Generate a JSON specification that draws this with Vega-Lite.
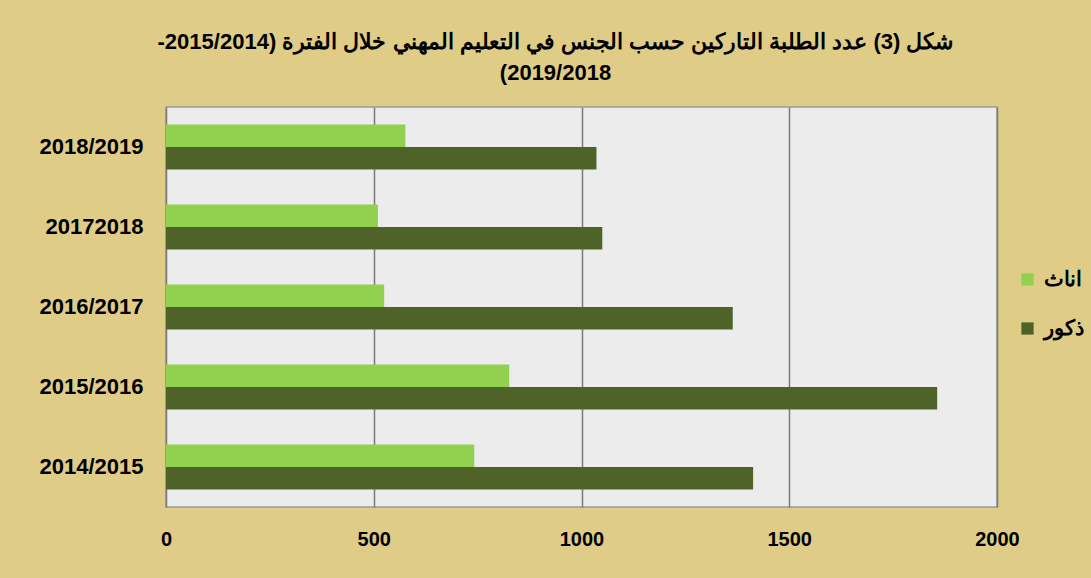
{
  "$schema": "https://vega.github.io/schema/vega-lite/v6.json",
  "width": 831,
  "height": 400,
  "autosize": {"type": "none"},
  "padding": {"left": 166, "top": 107, "right": 94, "bottom": 71},
  "background": "#dfcd87",
  "title": {
    "text": ["\u202bشكل (3) عدد الطلبة التاركين حسب الجنس في التعليم المهني خلال الفترة (2014\u200f/\u200f2015-\u202c", "\u202b2018\u200f/\u200f2019)\u202c"],
    "font": "Liberation Sans",
    "fontSize": 22,
    "fontWeight": "bold",
    "color": "#000000",
    "lineHeight": 31,
    "anchor": "middle",
    "frame": "group",
    "dx": -26,
    "offset": 22
  },
  "data": {
    "values": [
      {"year": "2018/2019", "gender": "اناث", "count": 576},
      {"year": "2018/2019", "gender": "ذكور", "count": 1036},
      {"year": "20172018", "gender": "اناث", "count": 510},
      {"year": "20172018", "gender": "ذكور", "count": 1050},
      {"year": "2016/2017", "gender": "اناث", "count": 525},
      {"year": "2016/2017", "gender": "ذكور", "count": 1364},
      {"year": "2015/2016", "gender": "اناث", "count": 826},
      {"year": "2015/2016", "gender": "ذكور", "count": 1856},
      {"year": "2014/2015", "gender": "اناث", "count": 742},
      {"year": "2014/2015", "gender": "ذكور", "count": 1413}
    ]
  },
  "mark": {"type": "bar"},
  "encoding": {
    "y": {
      "field": "year",
      "type": "nominal",
      "sort": ["2018/2019", "20172018", "2016/2017", "2015/2016", "2014/2015"],
      "scale": {"paddingInner": 0.44, "paddingOuter": 0.22},
      "axis": {
        "title": null,
        "domain": false,
        "ticks": false,
        "labelFont": "Liberation Sans",
        "labelFontSize": 22,
        "labelFontWeight": "bold",
        "labelColor": "#000000",
        "labelPadding": 23
      }
    },
    "yOffset": {
      "field": "gender",
      "type": "nominal",
      "scale": {"domain": ["اناث", "ذكور"], "paddingInner": 0, "paddingOuter": 0}
    },
    "x": {
      "field": "count",
      "type": "quantitative",
      "scale": {"domain": [0, 2000], "nice": false},
      "axis": {
        "title": null,
        "values": [0, 500, 1000, 1500, 2000],
        "format": "d",
        "domain": false,
        "ticks": false,
        "grid": true,
        "gridColor": "#7a7a7a",
        "gridWidth": 1.5,
        "labelFont": "Liberation Sans",
        "labelFontSize": 20,
        "labelFontWeight": "bold",
        "labelColor": "#000000",
        "labelPadding": 22,
        "labelFlush": false
      }
    },
    "color": {
      "field": "gender",
      "type": "nominal",
      "scale": {"domain": ["اناث", "ذكور"], "range": ["#92d050", "#4f6228"]},
      "legend": {
        "title": null,
        "orient": "none",
        "legendX": 851,
        "legendY": 162,
        "symbolType": "square",
        "symbolSize": 150,
        "symbolStrokeWidth": 0,
        "labelFont": "Liberation Sans",
        "labelFontSize": 21,
        "labelFontWeight": "bold",
        "labelColor": "#000000",
        "rowPadding": 27,
        "labelOffset": 6
      }
    }
  },
  "config": {
    "view": {"fill": "#ececec", "stroke": "#9a9a9a", "strokeWidth": 1.5}
  }
}
